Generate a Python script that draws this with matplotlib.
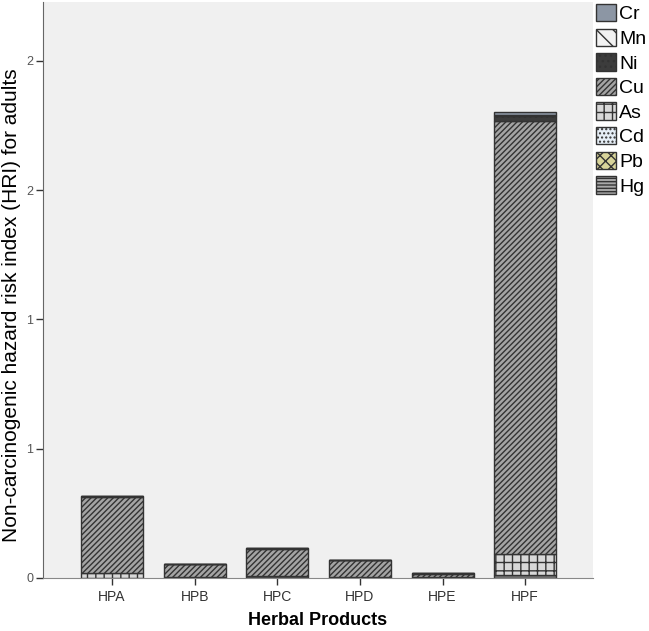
import matplotlib.pyplot as plt
import numpy as np

products = ["HPA", "HPB", "HPC", "HPD", "HPE", "HPF"]

# stacked from bottom to top
metals = ["Hg", "Pb", "Cd", "As", "Cu", "Ni", "Mn", "Cr"]
hg = [0.0, 0.0, 0.008, 0.0, 0.0, 0.012]
pb = [0.0, 0.0, 0.0, 0.0, 0.0, 0.0]
cd = [0.0, 0.0, 0.0, 0.0, 0.0, 0.0]
as_ = [0.02, 0.003, 0.0, 0.003, 0.002, 0.08]
cu = [0.295, 0.052, 0.105, 0.066, 0.015, 1.676]
ni = [0.003, 0.001, 0.002, 0.001, 0.001, 0.02]
mn = [0.0, 0.0, 0.0, 0.0, 0.0, 0.002]
cr = [0.0, 0.0, 0.0, 0.0, 0.0, 0.011]

yticks = [0, 0.5, 1, 1.5, 2]
ytick_labels = ["0", "1", "1", "2", "2"]

styles = {
    "Hg": dict(color="#a8a8a8", hatch="-----"),
    "Pb": dict(color="#d8d49a", hatch="xxx"),
    "Cd": dict(color="#e6eef6", hatch="...."),
    "As": dict(color="#d8d8d8", hatch="++"),
    "Cu": dict(color="#a4a4a4", hatch="//////"),
    "Ni": dict(color="#3c3c3c", hatch="..."),
    "Mn": dict(color="#f2f2f2", hatch="\\\\"),
    "Cr": dict(color="#8c96a4", hatch=""),
}

plt.rcParams["font.family"] = ["Liberation Sans", "DejaVu Sans"]
plt.rcParams["hatch.linewidth"] = 1.0

fig = plt.figure(figsize=(6.49, 6.31), dpi=100)
ax = fig.add_axes([43 / 649, 53 / 631, 550 / 649, 576 / 631])
ax.set_facecolor("#f0f0f0")

x = np.arange(len(products))
series = [hg, pb, cd, as_, cu, ni, mn, cr]
bottom = np.zeros(len(products))
handles = {}
for name, vals in zip(metals, series):
    st = styles[name]
    b = ax.bar(x, vals, 0.75, bottom=bottom, color=st["color"], hatch=st["hatch"],
               edgecolor="#333333", linewidth=1.0, label=name)
    handles[name] = b
    bottom += np.array(vals)

ax.set_xlim(-0.835, 5.82)
ax.set_ylim(0, 2.227)
ax.set_xticks(x)
ax.set_xticklabels(products, fontsize=10, color="#333333")
ax.set_yticks(yticks)
ax.set_yticklabels(ytick_labels, fontsize=9, color="#555555")
ax.tick_params(axis="both", color="#333333", length=5, width=1)
ax.tick_params(axis="y", pad=2)

for side in ["top", "right"]:
    ax.spines[side].set_visible(False)
ax.spines["left"].set_color("#666666")
ax.spines["bottom"].set_color("#888888")

ax.set_xlabel("Herbal Products", fontsize=13, fontweight="bold", labelpad=6)
fig.text(12 / 649, 1 - 305 / 631, "Non-carcinogenic hazard risk index (HRI) for adults",
         rotation=90, fontsize=15, ha="center", va="center")

order = ["Cr", "Mn", "Ni", "Cu", "As", "Cd", "Pb", "Hg"]
leg = fig.legend([handles[m] for m in order], order, loc="upper left",
                 bbox_to_anchor=(596 / 649, 1 - 4 / 631), frameon=False, fontsize=14,
                 handlelength=1.05, handleheight=1.0, handletextpad=0.15,
                 labelspacing=0.27, borderaxespad=0.0, borderpad=0.0)

plt.savefig("out.png", dpi=100)
